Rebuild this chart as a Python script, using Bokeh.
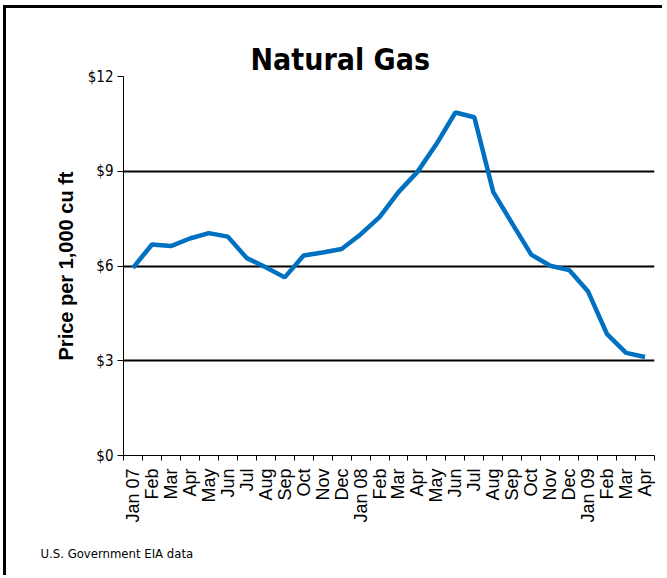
import math
from bokeh.plotting import figure
from bokeh.models import FixedTicker, Range1d, Title
from bokeh.embed import file_html
from bokeh.resources import INLINE

months = ["Jan 07", "Feb", "Mar", "Apr", "May", "Jun", "Jul", "Aug", "Sep", "Oct", "Nov", "Dec",
          "Jan 08", "Feb", "Mar", "Apr", "May", "Jun", "Jul", "Aug", "Sep", "Oct", "Nov", "Dec",
          "Jan 09", "Feb", "Mar", "Apr"]
price = [5.94, 6.68, 6.63, 6.87, 7.04, 6.93, 6.25, 5.96, 5.64, 6.33, 6.43, 6.54,
         7.00, 7.55, 8.34, 8.98, 9.86, 10.86, 10.71, 8.34, 7.34, 6.36, 6.01, 5.87,
         5.19, 3.84, 3.25, 3.12]
y_ticks = [0, 3, 6, 9, 12]

xs = list(range(len(months)))

p = figure(width=659, height=570, output_backend="svg", toolbar_location=None,
           x_range=Range1d(-0.5, len(months) - 0.5), y_range=Range1d(0, 12),
           min_border_left=117, min_border_right=11, min_border_top=68, min_border_bottom=123,
           title="Natural Gas")
p.styles = {"border-top": "3px solid black", "border-left": "3px solid black",
            "margin-left": "3px", "margin-top": "5px"}

p.title.text_font = "DejaVu Sans Condensed"
p.title.text_font_size = "30px"
p.title.text_font_style = "bold"
p.title.text_color = "black"
p.title.align = "left"
p.title.offset = 127
p.title.standoff = 0

p.outline_line_color = None
p.background_fill_color = "white"
p.border_fill_color = "white"

p.xgrid.grid_line_color = None
p.ygrid.grid_line_color = "black"
p.ygrid.grid_line_width = 2

p.yaxis.ticker = FixedTicker(ticks=y_ticks)
p.yaxis.major_label_overrides = {t: f"${t}" for t in y_ticks}
p.yaxis.major_label_text_font = "DejaVu Sans Condensed"
p.yaxis.major_label_text_font_size = "15px"
p.yaxis.major_label_text_color = "black"
p.yaxis.major_tick_out = 6
p.yaxis.major_tick_in = 0
p.yaxis.minor_tick_line_color = None
p.yaxis.axis_line_color = "black"
p.yaxis.major_tick_line_color = "black"
p.yaxis.major_label_standoff = 4
p.yaxis.axis_label = "Price per 1,000 cu ft"
p.yaxis.axis_label_text_font = "Liberation Sans"
p.yaxis.axis_label_text_font_size = "20px"
p.yaxis.axis_label_text_font_style = "bold"
p.yaxis.axis_label_text_color = "black"
p.yaxis.axis_label_standoff = 8

p.xaxis.ticker = FixedTicker(ticks=xs, minor_ticks=[i - 0.5 for i in range(len(months) + 1)])
p.xaxis.major_label_overrides = {i: m for i, m in enumerate(months)}
p.xaxis.major_label_orientation = math.pi / 2
p.xaxis.major_label_text_font = "Liberation Sans"
p.xaxis.major_label_text_font_size = "18px"
p.xaxis.major_label_text_color = "black"
p.xaxis.major_tick_out = 0
p.xaxis.major_tick_in = 0
p.xaxis.minor_tick_out = 5
p.xaxis.minor_tick_in = 0
p.xaxis.minor_tick_line_color = "black"
p.xaxis.axis_line_color = "black"
p.xaxis.major_label_standoff = 8

p.line(xs, price, line_color="#0070C0", line_width=4.5)

footer = Title(text="U.S. Government EIA data", align="left", offset=-83, standoff=36,
               text_font="DejaVu Sans Condensed", text_font_size="13px",
               text_font_style="normal", text_color="black")
p.add_layout(footer, "below")

open("out.html", "w").write(file_html(p, INLINE))
